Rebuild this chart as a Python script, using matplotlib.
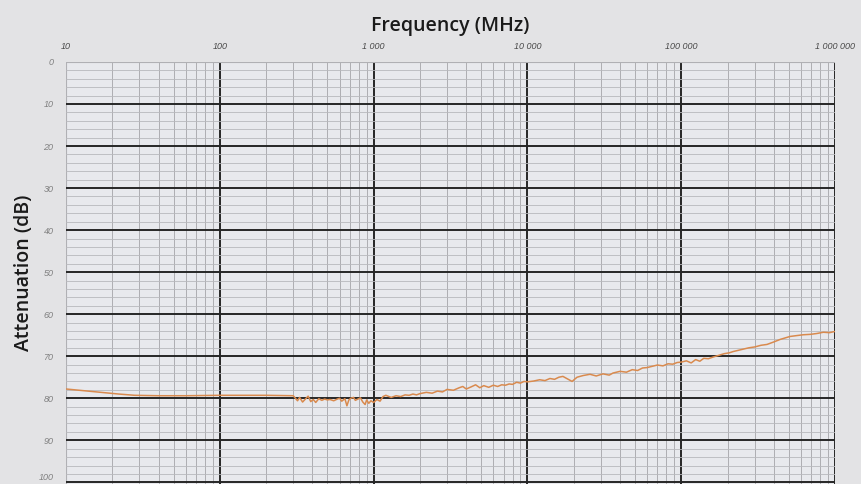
import numpy as np
import matplotlib
matplotlib.use('Agg')
import matplotlib.pyplot as plt
from matplotlib.ticker import FixedLocator, FuncFormatter, LogLocator, NullFormatter

# Frequency (MHz) and attenuation (dB)
freq = [10, 13, 17, 22, 28, 40, 60, 100, 150, 200, 300,
        320, 330, 345, 360, 375, 390, 405, 420, 440, 460, 480, 500, 520, 550,
        580, 600, 620, 650, 670, 690, 710, 740, 760, 790, 820, 850, 880, 900,
        930, 960, 1000, 1050, 1100, 1150, 1200, 1300, 1400, 1500, 1600, 1700,
        1800, 1900, 2000, 2200, 2400, 2600, 2800, 3000, 3300, 3600, 3800, 4000,
        4300, 4600, 4900, 5200, 5600, 6000, 6400, 6800, 7200, 7600, 8000, 8500,
        9000, 9500, 10000, 11000, 12000, 13000, 14000, 15000, 16000, 17000,
        18000, 19500, 21000, 23000, 25500, 28000, 31000, 34000, 36000, 40000,
        44000, 48000, 52000, 56000, 60000, 65000, 70000, 76000, 82000, 88000,
        94000, 100000, 108000, 116000, 124000, 132000, 140000, 150000, 161000,
        175000, 190000, 205000, 217000, 235000, 255000, 275000, 300000, 330000,
        361000, 400000, 440000, 480000, 510000, 560000, 620000, 690000, 760000,
        840000, 920000, 1000000]
atten = [77.8, 78.2, 78.6, 79.0, 79.3, 79.4, 79.4, 79.3, 79.3, 79.3, 79.4,
         80.6, 79.8, 80.9, 80.2, 79.5, 80.8, 80.3, 81.0, 80.1, 80.5, 80.2, 80.4, 80.3, 80.6,
         80.2, 80.0, 80.7, 80.1, 81.8, 80.4, 80.0, 79.8, 80.5, 80.2, 79.9, 80.9, 81.5, 80.4,
         81.2, 80.6, 81.0, 80.3, 80.7, 79.6, 79.3, 79.8, 79.4, 79.6, 79.2, 79.3,
         79.0, 79.2, 78.9, 78.6, 78.8, 78.3, 78.5, 77.9, 78.1, 77.5, 77.2, 77.8,
         77.3, 76.8, 77.5, 77.0, 77.4, 76.9, 77.2, 76.8, 76.9, 76.6, 76.7, 76.2,
         76.4, 76.0, 76.1, 75.9, 75.6, 75.8, 75.3, 75.5, 75.0, 74.8,
         75.3, 76.0, 75.0, 74.6, 74.3, 74.7, 74.2, 74.5, 74.0, 73.6,
         73.8, 73.2, 73.4, 72.8, 72.7, 72.4, 72.1, 72.3, 71.8, 71.9,
         71.5, 71.4, 71.1, 71.6, 70.8, 71.2, 70.5, 70.6, 70.2,
         69.8, 69.4, 69.2, 68.9, 68.6, 68.3, 68.0, 67.8, 67.4,
         67.2, 66.6, 66.0, 65.6, 65.3, 65.1, 64.9, 64.8, 64.6,
         64.3, 64.4, 64.1]

x_ticks = [10, 100, 1000, 10000, 100000, 1000000]
y_ticks = [0, 10, 20, 30, 40, 50, 60, 70, 80, 90, 100]
y_minor = [2, 4, 6, 8, 12, 14, 16, 18, 22, 24, 26, 28, 32, 34, 36, 38, 42, 44, 46, 48,
           52, 54, 56, 58, 62, 64, 66, 68, 72, 74, 76, 78, 82, 84, 86, 88, 92, 94, 96, 98]

fig = plt.figure(figsize=(8.61, 4.84), dpi=100, facecolor='#e3e3e5')
ax = fig.add_axes([0.0767, 0.0, 0.8932, 0.872])
ax.set_facecolor('#e8e9ed')

ax.plot(freq, atten, color='#d98a4e', lw=1.1, zorder=5)

ax.set_xscale('log')
ax.set_xlim(10, 1000000)
ax.set_ylim(100.4, 0)

ax.xaxis.set_major_locator(FixedLocator(x_ticks))
ax.xaxis.set_minor_locator(LogLocator(base=10, subs=range(2, 10)))
ax.xaxis.set_minor_formatter(NullFormatter())
ax.xaxis.set_major_formatter(FuncFormatter(lambda v, p: f'{int(v):,}'.replace(',', ' ')))
ax.yaxis.set_major_locator(FixedLocator(y_ticks))
ax.yaxis.set_minor_locator(FixedLocator(y_minor))

ax.xaxis.tick_top()
ax.tick_params(which='both', length=0)
ax.tick_params(axis='x', labelsize=6.5, labelcolor='#4a4a4a', pad=8)
ax.tick_params(axis='y', labelsize=6.5, labelcolor='#808080', pad=9)
for lab in ax.get_xticklabels() + ax.get_yticklabels():
    lab.set_fontstyle('italic')
    lab.set_fontfamily('Liberation Sans')
# the last label sits on the lower edge, lift it so it stays on the figure
ax.get_yticklabels()[-1].set_verticalalignment('bottom')

ax.grid(which='major', color='#262626', lw=1.4)
ax.grid(which='minor', axis='x', color='#a4a4a8', lw=0.6)
ax.grid(which='minor', axis='y', color='#b8b8bc', lw=0.6)
ax.get_xgridlines()[0].set_color('#b0b0b4')
ax.get_xgridlines()[0].set_linewidth(0.8)
ax.get_ygridlines()[0].set_color('#b0b0b4')
ax.get_ygridlines()[0].set_linewidth(0.8)
ax.set_axisbelow(True)

for s in ax.spines.values():
    s.set_visible(False)

ax.xaxis.set_label_position('top')
ax.set_xlabel('Frequency (MHz)', fontsize=14, family='Open Sans', weight='semibold',
              color='#1a1a1a', labelpad=8)
ax.set_ylabel('Attenuation (dB)', fontsize=14, family='Open Sans', weight='semibold',
              color='#1a1a1a', labelpad=3)

fig.savefig('out.png', dpi=100, facecolor=fig.get_facecolor())
